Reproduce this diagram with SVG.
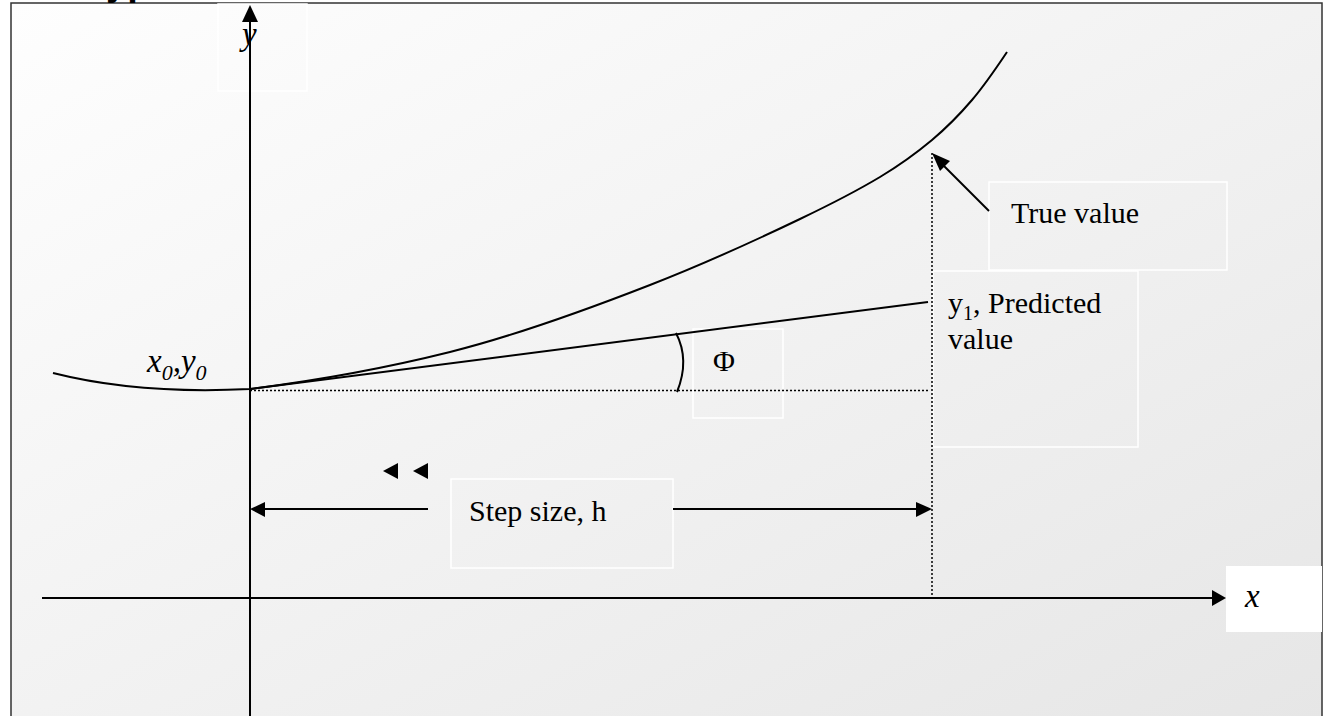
<svg xmlns="http://www.w3.org/2000/svg" width="1326" height="716" viewBox="0 0 1326 716">
<defs>
<linearGradient id="bg" x1="0" y1="0" x2="1" y2="1">
<stop offset="0" stop-color="#fefefe"/>
<stop offset="1" stop-color="#e6e6e6"/>
</linearGradient>
<style>
.ax{stroke:#000;stroke-width:2;fill:none}
.ln{stroke:#000;stroke-width:2;fill:none}
.dot{stroke:#000;stroke-width:1.5;stroke-dasharray:2 2;fill:none}
.box{fill:none;stroke:#fff;stroke-width:1.5}
.t{font-family:"Liberation Serif","Times New Roman",serif;font-size:30px;fill:#000}
.i{font-style:italic;font-size:33px}
.ah{fill:#000}
</style>
</defs>
<rect width="1326" height="716" fill="#fff"/>
<rect x="11" y="3" width="1311" height="720" fill="url(#bg)" stroke="#333" stroke-width="1.5"/>
<text x="106" y="-5" font-family="Liberation Sans,Arial,sans-serif" font-weight="bold" font-size="38">ypo</text>

<g id="labels">
<g id="y-label"><rect class="box" x="218" y="4" width="89" height="87" fill="#fcfcfc"/><text class="t i" x="242" y="45">y</text></g>
<g id="phi-label"><rect class="box" x="693" y="329" width="90" height="89"/><text class="t" x="724" y="371" text-anchor="middle">Φ</text></g>
<g id="true-value"><rect class="box" x="989" y="182" width="238" height="88"/><text class="t" x="1011" y="223">True value</text></g>
<g id="predicted"><rect class="box" x="933" y="271" width="205" height="176"/><text class="t" x="948" y="313">y<tspan font-size="20" dy="7">1</tspan><tspan dy="-7">, Predicted</tspan></text><text class="t" x="948" y="349">value</text></g>
<g id="step"><rect class="box" x="451" y="479" width="222" height="89"/><text class="t" x="469" y="521">Step size, h</text></g>
<g id="x-label"><rect x="1226" y="566" width="96" height="66" fill="#fff"/><text class="t i" x="1245" y="607">x</text></g>
<g id="x0y0"><text class="t i" x="147" y="372">x<tspan font-size="22" dy="8">0</tspan><tspan dy="-8">,y</tspan><tspan font-size="22" dy="8">0</tspan></text></g>
</g>

<g id="connectors">
<line class="ax" x1="250" y1="18" x2="250" y2="716"/>
<polygon class="ah" points="250,5 242,22 258,22"/>
<line class="ax" x1="42" y1="598" x2="1214" y2="598"/>
<polygon class="ah" points="1226,598 1212,590 1212,606"/>
<path class="ln" d="M53,373 C120,390 190,392 250,389 C316.7,380.5 383.3,368.7 450,352 C516.7,335.3 583.3,311 650,285 C700,265.5 750,243 800,219 C826.7,206.2 853.3,193 880,177 C897.3,166.6 914.7,154.5 932,140 C945.3,128.8 958.7,115.6 972,100 C983.7,86.3 995.3,69.5 1007,52"/>
<line class="ln" x1="250" y1="389" x2="928" y2="302"/>
<line class="dot" x1="250" y1="390.5" x2="930" y2="390.5"/>
<line class="dot" x1="932" y1="153" x2="932" y2="598"/>
<path class="ln" d="M676,333 Q690,360 677,392"/>
<line class="ln" x1="989" y1="211" x2="942" y2="164"/>
<polygon class="ah" points="932,153 950,161 940,171"/>
<line class="ln" x1="264" y1="509" x2="428" y2="509"/>
<polygon class="ah" points="250,509 265,502 265,517"/>
<line class="ln" x1="673" y1="509" x2="918" y2="509"/>
<polygon class="ah" points="932,509 916,502 916,517"/>
<polygon class="ah" points="383,471 398,463 398,479"/>
<polygon class="ah" points="413,471 428,463 428,479"/>
</g>
</svg>
